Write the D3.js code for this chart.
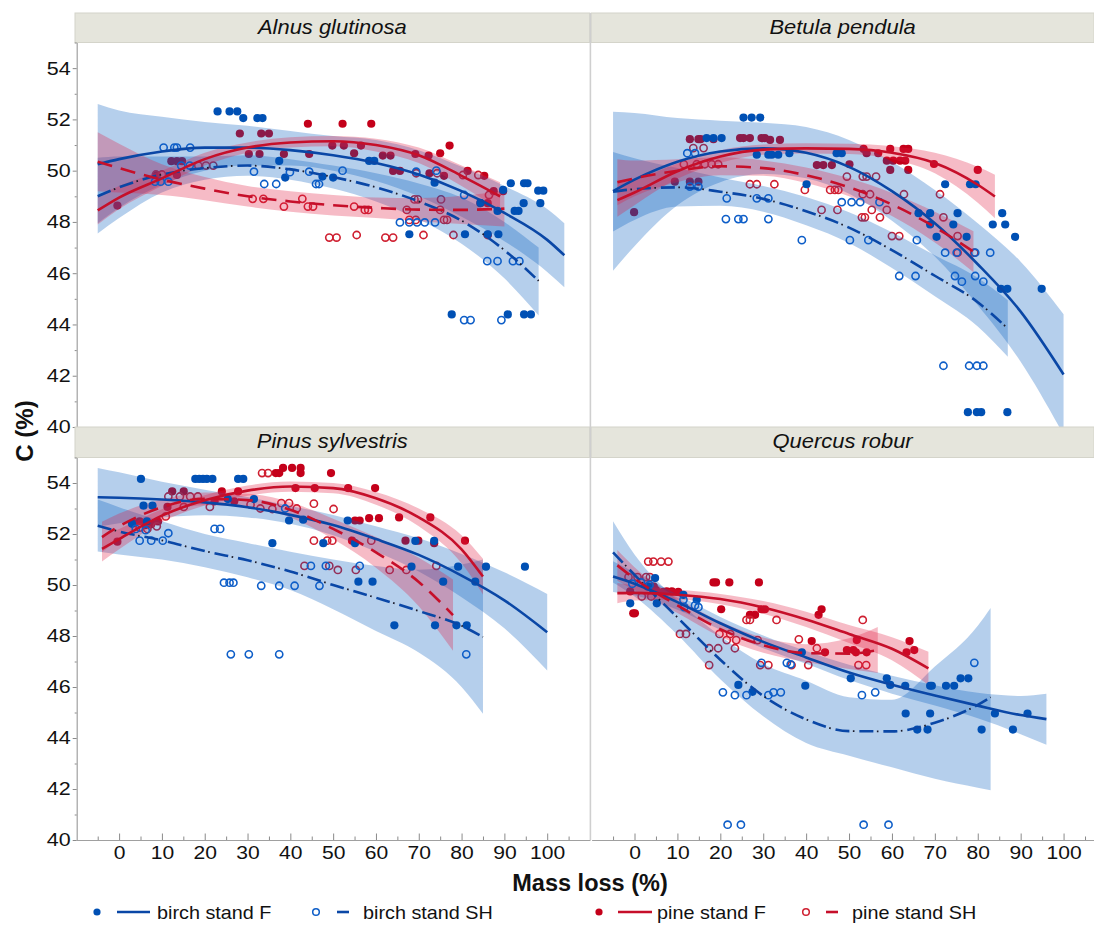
<!DOCTYPE html>
<html>
<head>
<meta charset="utf-8">
<script src="https://cdn.jsdelivr.net/npm/d3@7"></script>
<style>
body { margin: 0; background: #fff; }
svg { display: block; font-family: "Liberation Sans", Arial, sans-serif; }
</style>
</head>
<body>
<div id="chart"></div>
<script>
var panelTitles = ["Alnus glutinosa", "Betula pendula", "Pinus sylvestris", "Quercus robur"];
var seriesNames = ["birch stand F", "birch stand SH", "pine stand F", "pine stand SH"];
var xTicks = [0, 10, 20, 30, 40, 50, 60, 70, 80, 90, 100];
var yTicks = [40, 42, 44, 46, 48, 50, 52, 54];

// points: [mass loss %, C %]
var alnusBirchF = [[23.0,52.31],[25.8,52.31],[27.6,52.31],[29.0,52.05],[32.3,52.05],[33.5,52.05],[37.4,50.38],[38.8,49.73],[47.5,49.77],[50.0,49.73],[58.4,50.38],[59.6,50.38],[67.8,47.52],[73.7,49.53],[77.7,44.39],[80.8,47.52],[84.4,48.74],[86.1,47.52],[88.6,47.52],[88.4,48.43],[89.7,49.25],[90.8,44.39],[91.5,49.51],[92.4,48.43],[93.3,48.43],[94.5,48.73],[94.6,49.51],[95.4,49.51],[94.6,44.39],[96.2,44.39],[97.9,49.22],[98.4,48.73],[99.1,49.22]];
var alnusBirchSH = [[8.4,49.57],[9.7,49.57],[11.5,49.57],[10.4,50.9],[12.9,50.9],[13.5,50.9],[16.6,50.9],[14.5,50.2],[16.5,50.2],[31.5,49.96],[33.9,49.48],[36.7,49.48],[39.9,49.94],[44.4,49.96],[46.0,49.48],[46.7,49.48],[52.2,50.0],[65.6,47.98],[67.8,47.98],[69.6,47.98],[71.4,47.98],[73.8,47.98],[69.4,49.96],[74.1,50.0],[80.6,49.05],[86.0,46.47],[88.4,46.47],[92.0,46.47],[93.5,46.47],[80.6,44.17],[82.1,44.17],[89.3,44.17]];
var alnusPineF = [[-0.4,48.64],[8.8,49.83],[12.2,50.37],[13.5,50.37],[14.7,50.37],[13.5,49.83],[28.2,51.45],[30.3,50.65],[32.8,50.65],[33.2,51.45],[35.0,51.45],[38.5,50.65],[44.1,51.83],[44.4,50.65],[49.8,50.98],[52.2,51.83],[52.5,50.98],[54.9,50.68],[56.5,50.98],[58.9,51.83],[61.6,50.59],[63.4,50.59],[64.0,49.99],[65.6,49.99],[69.2,50.65],[72.3,50.59],[72.5,49.9],[75.0,50.68],[75.9,49.8],[77.2,50.98],[81.4,49.99],[85.3,49.8],[84.4,48.73],[86.1,48.73],[87.5,49.2],[89.7,49.2]];
var alnusPineSH = [[8.6,49.85],[10.0,49.85],[18.5,50.2],[20.3,50.2],[22.0,50.2],[31.2,48.9],[33.7,48.9],[38.5,48.6],[42.8,48.9],[44.1,48.6],[45.3,48.6],[49.1,47.39],[50.8,47.39],[54.9,48.6],[55.5,47.49],[57.4,48.47],[58.2,48.47],[62.2,47.39],[64.0,47.39],[67.2,48.47],[67.8,48.08],[69.3,48.08],[69.0,48.88],[69.8,48.88],[69.4,49.9],[71.1,47.49],[74.3,49.9],[75.0,48.47],[75.2,48.88],[75.9,48.08],[76.6,48.08],[78.1,47.49],[80.3,49.83],[83.9,49.83],[86.1,47.49],[86.4,49.05]];

var betulaBirchF = [[16.8,51.27],[18.4,51.27],[20.3,51.27],[25.4,52.07],[27.3,52.07],[29.3,52.07],[28.5,50.62],[31.2,50.62],[32.0,50.62],[33.5,50.62],[36.1,50.68],[40.1,49.47],[47.1,50.68],[48.3,50.68],[66.2,48.34],[68.9,48.34],[68.9,47.9],[70.4,47.42],[72.4,49.47],[74.3,47.9],[75.3,48.34],[77.4,47.42],[78.2,49.47],[79.5,49.47],[83.5,47.9],[85.4,45.39],[85.7,48.34],[86.4,47.9],[86.9,45.39],[88.7,47.42],[94.9,45.39],[77.7,40.58],[79.8,40.58],[80.8,40.58],[86.9,40.58]];
var betulaBirchSH = [[12.3,50.68],[14.1,50.68],[12.9,49.38],[14.9,49.38],[21.5,48.92],[28.5,48.92],[31.2,48.92],[21.3,48.11],[24.2,48.11],[25.4,48.11],[31.2,48.11],[39.0,47.29],[48.3,48.77],[50.6,48.77],[52.6,48.77],[50.2,47.29],[54.5,47.29],[57.1,48.77],[61.7,45.89],[65.5,45.89],[65.8,47.29],[72.4,46.8],[75.1,46.8],[74.7,45.89],[76.3,45.67],[79.4,46.8],[79.4,45.89],[81.3,45.67],[82.9,46.8],[72.0,42.39],[78.0,42.39],[79.8,42.39],[81.3,42.39]];
var betulaPineF = [[-0.1,48.38],[9.4,49.57],[12.9,51.23],[14.9,51.23],[15.4,51.23],[18.4,51.23],[12.9,49.57],[14.9,49.57],[24.6,51.27],[25.4,51.27],[26.9,51.27],[29.6,51.27],[30.4,51.27],[31.6,51.2],[33.9,51.2],[42.5,50.22],[44.0,50.22],[46.0,50.22],[50.1,50.25],[53.4,50.85],[54.1,50.68],[56.8,50.68],[58.8,50.39],[59.6,50.85],[59.6,50.03],[60.3,50.39],[61.9,50.39],[62.7,50.85],[63.1,50.39],[63.8,50.85],[63.8,50.03],[69.8,50.26],[80.0,50.03]];
var betulaPineSH = [[13.7,50.88],[16.1,50.88],[11.5,50.25],[14.5,50.25],[16.4,50.25],[18.0,50.25],[19.5,50.25],[26.9,49.47],[28.5,49.47],[32.6,49.47],[39.7,49.25],[43.6,48.47],[47.3,48.47],[45.6,49.25],[46.7,49.25],[47.5,49.25],[49.5,49.77],[53.2,49.77],[54.1,49.77],[56.3,49.77],[53.2,49.08],[54.9,49.08],[55.3,48.47],[53.0,48.18],[53.7,48.18],[57.2,48.18],[58.8,48.47],[62.8,49.08],[60.0,47.45],[61.7,47.45],[71.2,49.08],[72.0,48.18],[75.3,47.45],[75.3,46.8],[79.2,46.8]];

var pinusBirchF = [[3.0,52.4],[6.5,52.5],[5.1,54.16],[5.7,53.11],[7.8,53.11],[17.8,54.16],[18.7,54.16],[19.6,54.16],[20.5,54.16],[21.8,54.16],[27.8,54.16],[29.0,54.16],[25.4,53.37],[31.5,53.37],[35.8,51.64],[39.7,52.53],[43.0,52.56],[47.7,51.64],[53.4,52.53],[55.1,51.64],[55.9,50.13],[59.2,50.13],[64.3,48.42],[68.3,50.72],[69.2,51.73],[73.6,51.73],[73.8,48.42],[75.7,50.13],[78.8,48.42],[79.2,50.72],[81.2,48.42],[83.2,50.13],[85.7,50.72],[94.8,50.72]];
var pinusBirchSH = [[3.9,52.2],[6.2,52.15],[4.8,51.74],[7.5,51.74],[10.2,51.74],[11.5,52.03],[22.3,52.2],[23.6,52.2],[24.5,50.09],[25.8,50.09],[26.7,50.09],[26.1,47.28],[30.3,47.28],[37.4,47.28],[33.2,49.97],[37.4,49.97],[41.0,49.97],[46.8,49.97],[44.8,50.75],[48.3,50.75],[56.2,50.75],[38.8,53.0],[81.1,47.28]];
var pinusPineF = [[-0.4,51.7],[3.5,52.43],[4.8,52.5],[6.2,52.35],[7.5,52.38],[9.1,52.49],[12.4,53.67],[15.1,53.67],[11.3,53.06],[22.3,53.28],[24.0,53.67],[26.9,53.28],[27.8,53.67],[36.6,54.39],[37.4,54.39],[38.3,54.59],[40.4,54.59],[42.4,54.59],[42.4,54.39],[41.2,53.8],[45.7,53.8],[49.5,54.39],[53.5,53.8],[59.8,53.8],[55.1,52.53],[56.2,52.53],[58.4,52.62],[60.7,52.62],[54.4,51.74],[65.4,52.65],[66.9,51.74],[69.9,51.74],[72.7,52.65],[73.6,51.64],[80.8,51.74]];
var pinusPineSH = [[4.8,52.25],[6.6,52.2],[8.8,52.3],[10.9,52.69],[11.5,53.47],[14.2,53.47],[16.6,53.47],[18.4,53.47],[15.1,53.06],[21.2,53.06],[30.7,53.15],[33.0,53.0],[33.4,54.39],[34.8,54.39],[35.8,52.98],[37.9,53.21],[39.7,53.21],[41.5,53.0],[45.5,53.19],[50.1,52.98],[45.5,51.74],[48.6,51.74],[49.8,51.74],[43.3,50.75],[49.1,50.75],[51.1,50.59],[55.3,50.59],[58.9,51.74],[63.2,50.59],[67.1,50.59],[74.1,50.75]];

var quercusBirchF = [[-1.0,49.28],[4.8,50.27],[3.2,49.94],[5.2,49.28],[11.4,49.61],[14.5,49.42],[24.2,46.08],[27.5,45.81],[39.0,47.36],[39.8,46.05],[50.4,46.34],[58.8,46.34],[59.6,46.08],[63.1,46.05],[63.2,44.96],[65.9,44.33],[68.3,44.33],[68.9,46.05],[69.3,46.05],[68.9,44.96],[72.6,46.05],[74.5,46.05],[76.0,46.34],[77.8,46.34],[80.9,44.33],[84.0,44.96],[88.2,44.33],[91.6,44.96]];
var quercusBirchSH = [[-0.5,50.05],[1.5,50.1],[3.5,50.0],[11.4,49.42],[11.6,49.13],[14.1,49.2],[14.9,49.13],[20.6,45.79],[23.4,45.68],[26.1,45.68],[31.2,45.68],[32.4,45.79],[34.1,45.79],[29.6,46.95],[35.5,46.95],[36.4,46.89],[53.0,45.68],[56.1,45.79],[79.2,46.95],[21.7,40.6],[24.8,40.6],[53.4,40.6],[59.2,40.6]];
var quercusPineF = [[-0.3,48.89],[0.1,48.89],[-1.0,49.75],[3.0,49.94],[4.5,49.94],[5.0,49.8],[6.7,49.73],[7.5,49.75],[8.7,49.75],[10.2,49.73],[18.4,50.1],[19.0,50.1],[22.1,50.1],[29.0,50.1],[20.2,49.05],[26.9,48.83],[28.1,48.83],[29.6,49.05],[30.4,49.05],[41.3,47.8],[42.9,48.83],[43.6,49.05],[44.4,47.36],[49.5,47.45],[51.0,47.45],[51.6,47.36],[51.8,47.84],[54.1,47.36],[63.4,47.36],[64.1,47.8],[65.2,47.45]];
var quercusPineSH = [[-1.4,50.31],[0.7,50.31],[2.7,50.31],[3.6,50.31],[3.2,50.92],[4.4,50.92],[6.2,50.92],[7.9,50.92],[1.7,49.55],[3.9,49.55],[10.6,48.08],[12.0,48.08],[17.4,47.52],[19.5,47.52],[17.4,46.86],[19.8,48.08],[21.5,47.84],[22.3,48.08],[23.7,47.84],[23.4,47.52],[26.1,48.63],[26.9,48.63],[33.1,48.63],[28.7,47.84],[29.3,46.86],[31.2,46.86],[38.3,47.87],[36.6,46.86],[40.5,46.86],[42.5,47.52],[53.2,48.63],[52.2,46.86],[54.0,46.86]];

// fitted curves: [mass loss, fit, lower, upper]
var alnusFitBirchF = [[-5,50.25,47.95,52.6],[0,50.45,48.55,52.35],[10,50.75,49.45,52.1],[20,50.9,50.0,51.9],[30,50.9,50.2,51.75],[40,50.8,50.2,51.55],[50,50.6,50.0,51.35],[60,50.3,49.6,51.2],[70,49.85,49.0,50.8],[80,49.2,48.2,50.15],[90,48.35,47.25,49.4],[100,47.3,46.05,48.5],[104,46.7,45.45,47.95]];
var alnusFitBirchSH = [[-5,49.0,47.55,50.5],[0,49.35,48.15,50.55],[10,49.85,49.15,50.55],[20,50.1,49.65,50.55],[30,50.2,49.8,50.6],[40,50.05,49.65,50.45],[50,49.75,49.3,50.2],[60,49.35,48.8,49.9],[70,48.8,48.1,49.5],[80,48.05,47.15,48.95],[90,46.9,45.8,48.0],[98,45.7,44.35,47.0]];
var alnusFitPineF = [[-5,48.45,47.9,49.0],[0,48.95,48.5,49.4],[10,49.7,49.4,50.0],[20,50.45,50.2,50.7],[30,50.9,50.7,51.1],[40,51.1,50.9,51.3],[50,51.15,50.95,51.35],[60,51.0,50.75,51.25],[70,50.6,50.3,50.9],[80,49.8,49.4,50.2],[89,49.0,48.45,49.55]];
var alnusFitPineSH = [[-5,50.35,49.2,51.5],[0,50.1,49.15,51.05],[10,49.65,49.05,50.25],[20,49.3,48.85,49.75],[30,49.0,48.6,49.4],[40,48.8,48.4,49.2],[50,48.65,48.25,49.05],[60,48.55,48.15,48.95],[70,48.48,48.03,48.93],[80,48.47,47.92,49.02],[90,48.52,47.82,49.22]];

var betulaFitBirchF = [[-5,49.2,46.1,52.3],[0,49.65,47.05,52.25],[10,50.35,48.65,52.05],[20,50.75,49.55,51.95],[30,50.87,49.87,51.87],[40,50.7,49.7,51.7],[50,50.15,49.1,51.2],[60,49.2,48.05,50.35],[70,47.95,46.65,49.25],[80,46.35,44.75,47.95],[90,44.5,42.55,46.45],[100,42.05,39.7,44.4]];
var betulaFitBirchSH = [[-5,49.18,47.63,50.73],[0,49.28,48.08,50.48],[10,49.35,48.6,50.1],[20,49.18,48.63,49.73],[30,48.9,48.4,49.4],[40,48.42,47.87,48.97],[50,47.78,47.18,48.38],[60,46.9,46.2,47.6],[70,45.9,45.1,46.7],[80,44.87,43.92,45.82],[87,43.84,42.74,44.94]];
var betulaFitPineF = [[-4,48.85,48.2,49.5],[0,49.15,48.65,49.65],[10,49.98,49.68,50.28],[20,50.55,50.3,50.8],[30,50.82,50.62,51.02],[40,50.87,50.67,51.07],[50,50.85,50.65,51.05],[60,50.7,50.45,50.95],[70,50.3,49.9,50.7],[80,49.45,48.75,50.15],[84,48.99,48.14,49.84]];
var betulaFitPineSH = [[-4,49.55,48.65,50.45],[0,49.7,49.0,50.4],[10,50.0,49.55,50.45],[20,50.17,49.82,50.52],[30,50.1,49.8,50.4],[40,49.82,49.52,50.12],[50,49.35,49.0,49.7],[60,48.68,48.23,49.13],[70,47.8,47.2,48.4],[79,46.84,46.04,47.64]];

var pinusFitBirchF = [[-5,53.44,52.29,54.59],[0,53.42,52.42,54.42],[10,53.35,52.65,54.05],[20,53.24,52.74,53.74],[30,53.05,52.65,53.45],[40,52.75,52.4,53.1],[50,52.35,51.95,52.75],[60,51.8,51.3,52.3],[70,51.18,50.53,51.83],[80,50.37,49.52,51.22],[90,49.4,48.3,50.5],[100,48.15,46.65,49.65]];
var pinusFitBirchSH = [[-5,52.32,51.31,53.35],[0,52.1,51.2,53.05],[10,51.75,51.0,52.5],[20,51.33,50.7,52.0],[30,50.97,50.3,51.65],[40,50.53,49.8,51.3],[50,50.0,49.05,51.0],[60,49.5,48.2,50.75],[70,48.98,47.35,50.6],[80,48.4,46.0,50.8],[85,47.96,44.95,51.0]];
var pinusFitPineF = [[-4,51.42,50.92,51.92],[0,51.8,51.4,52.2],[10,52.72,52.47,52.97],[20,53.32,53.12,53.52],[30,53.7,53.5,53.9],[40,53.86,53.66,54.06],[50,53.8,53.6,54.0],[60,53.4,53.15,53.65],[70,52.65,52.3,53.0],[80,51.4,50.85,51.95],[85,50.33,49.63,51.03]];
var pinusFitPineSH = [[-4,51.88,51.28,52.48],[0,52.3,51.8,52.8],[10,53.05,52.75,53.35],[20,53.38,53.13,53.63],[30,53.33,53.08,53.58],[40,52.95,52.65,53.25],[50,52.2,51.8,52.6],[60,51.28,50.68,51.88],[70,50.12,49.17,51.07],[78,48.82,47.42,50.22]];

var quercusFitBirchF = [[-5,50.33,49.73,50.93],[0,50.05,49.6,50.5],[10,49.33,49.03,49.63],[20,48.5,48.25,48.75],[30,47.77,47.52,48.02],[40,47.16,46.91,47.41],[50,46.57,46.27,46.87],[60,46.09,45.74,46.44],[70,45.67,45.27,46.07],[80,45.27,44.77,45.77],[90,44.9,44.15,45.65],[96,44.74,43.74,45.74]];
var quercusFitBirchSH = [[-5,51.28,50.1,52.5],[0,50.4,49.55,51.2],[10,48.73,48.05,49.4],[20,47.07,46.3,48.0],[30,45.65,44.85,46.9],[40,44.73,43.8,46.25],[50,44.27,43.3,45.6],[60,44.26,42.85,45.5],[70,44.6,42.4,46.8],[80,45.3,42.05,48.4],[83,45.6,41.95,49.1]];
var quercusFitPineF = [[-4,49.68,49.28,50.08],[0,49.69,49.39,49.99],[10,49.62,49.42,49.82],[20,49.45,49.25,49.65],[30,49.12,48.87,49.37],[40,48.65,48.35,48.95],[50,48.08,47.73,48.43],[60,47.5,47.05,47.95],[68.5,46.73,46.08,47.38]];
var quercusFitPineSH = [[-4,50.77,50.17,51.37],[0,50.25,49.8,50.7],[10,49.2,48.9,49.5],[20,48.27,47.97,48.57],[30,47.64,47.34,47.94],[40,47.33,46.98,47.68],[50,47.31,46.71,47.91],[56.7,47.45,46.55,48.35]];

var panels = [
    { title: panelTitles[0], pts: [alnusBirchF, alnusBirchSH, alnusPineF, alnusPineSH], fits: [alnusFitBirchF, alnusFitBirchSH, alnusFitPineF, alnusFitPineSH] },
    { title: panelTitles[1], pts: [betulaBirchF, betulaBirchSH, betulaPineF, betulaPineSH], fits: [betulaFitBirchF, betulaFitBirchSH, betulaFitPineF, betulaFitPineSH] },
    { title: panelTitles[2], pts: [pinusBirchF, pinusBirchSH, pinusPineF, pinusPineSH], fits: [pinusFitBirchF, pinusFitBirchSH, pinusFitPineF, pinusFitPineSH] },
    { title: panelTitles[3], pts: [quercusBirchF, quercusBirchSH, quercusPineF, quercusPineSH], fits: [quercusFitBirchF, quercusFitBirchSH, quercusFitPineF, quercusFitPineSH] }
];

var blueDot = "#0050b4", blueOpen = "#0e5ec8", blueLine = "#0a47a6";
var redDot = "#c4001a", redOpen = "#cf1f30", redLine = "#c60f2a";
var series = [
    { dot: blueDot, open: false, line: blueLine, band: "rgb(0,90,190)", bandOp: 0.29, dash: null },
    { dot: blueOpen, open: true, line: blueLine, band: "rgb(0,90,190)", bandOp: 0.29, dash: "14,10" },
    { dot: redDot, open: false, line: redLine, band: "rgb(225,30,65)", bandOp: 0.3, dash: null },
    { dot: redOpen, open: true, line: redLine, band: "rgb(225,30,65)", bandOp: 0.3, dash: "15,9" }
];

var W = 1094, H = 929;
var cols = [{ x0: 76.3, x1: 590, hx0: 75, hx1: 589.6, domain: [-10, 110] },
            { x0: 591.6, x1: 1093.6, hx0: 591.2, hx1: 1094, domain: [-10, 107] }];
var rows = [{ hy: 13, top: 42.5, bottom: 427 }, { hy: 427, top: 457.5, bottom: 840 }];

var svg = d3.select("#chart").append("svg").attr("width", W).attr("height", H);

function label(parent, x, y, str, size, sx, anchor, weight, italic) {
    return parent.append("text")
        .attr("transform", "translate(" + x + "," + y + ") scale(" + sx + ",1)")
        .attr("text-anchor", anchor)
        .style("font-size", size + "px")
        .style("font-weight", weight || "normal")
        .style("font-style", italic ? "italic" : "normal")
        .style("fill", "#111")
        .text(str);
}

function drawPoints(g, data, s, x, y) {
    g.selectAll(null).data(data).enter().append("circle")
        .attr("cx", function (d) { return x(d[0]); })
        .attr("cy", function (d) { return y(d[1]); })
        .attr("r", s.open ? 3.6 : 4.1)
        .attr("fill", s.open ? "none" : s.dot)
        .attr("stroke", s.open ? s.dot : "none")
        .attr("stroke-width", 1.6);
}

panels.forEach(function (p, i) {
    var c = cols[i % 2], r = rows[Math.floor(i / 2)];
    var x = d3.scaleLinear().domain(c.domain).range([c.x0, c.x1]);
    var y = d3.scaleLinear().domain([40, 55]).range([r.bottom, r.top]);

    // strip header
    svg.append("rect")
        .attr("x", c.hx0).attr("y", r.hy)
        .attr("width", c.hx1 - c.hx0).attr("height", r.top - r.hy)
        .attr("fill", "#e5e5dc").attr("stroke", "#d4d4ca").attr("stroke-width", 1);
    label(svg, (c.hx0 + c.hx1) / 2, r.hy + 21, p.title, 20.5, 1.07, "middle", "normal", true);

    svg.append("clipPath").attr("id", "clip" + i).append("rect")
        .attr("x", c.x0).attr("y", r.top)
        .attr("width", c.hx1 - c.x0).attr("height", r.bottom - r.top);
    var g = svg.append("g").attr("clip-path", "url(#clip" + i + ")");

    var area = d3.area()
        .x(function (d) { return x(d[0]); })
        .y0(function (d) { return y(d[2]); })
        .y1(function (d) { return y(d[3]); })
        .curve(d3.curveMonotoneX);
    var line = d3.line()
        .x(function (d) { return x(d[0]); })
        .y(function (d) { return y(d[1]); })
        .curve(d3.curveMonotoneX);

    // red points sit below the bands, blue ones above
    drawPoints(g, p.pts[2], series[2], x, y);
    drawPoints(g, p.pts[3], series[3], x, y);
    [0, 1, 2, 3].forEach(function (k) {
        g.append("path").datum(p.fits[k])
            .attr("d", area)
            .attr("fill", series[k].band)
            .attr("fill-opacity", series[k].bandOp);
    });
    drawPoints(g, p.pts[0], series[0], x, y);
    drawPoints(g, p.pts[1], series[1], x, y);

    [0, 1, 2, 3].forEach(function (k) {
        g.append("path").datum(p.fits[k])
            .attr("d", line)
            .attr("fill", "none")
            .attr("stroke", series[k].line)
            .attr("stroke-width", 2.6)
            .attr("stroke-dasharray", series[k].dash);
        if (k === 1) {
            // little dark dots of the dash-dot pattern
            g.append("path").datum(p.fits[k])
                .attr("d", line)
                .attr("fill", "none")
                .attr("stroke", "#1a1a2a")
                .attr("stroke-width", 1.8)
                .attr("stroke-dasharray", "0,17.5,1.6,4.9");
        }
    });

    // y axis on the left column
    if (i % 2 === 0) {
        var ax = svg.append("g")
            .attr("class", "y axis")
            .attr("transform", "translate(" + (c.x0 + 0.4) + ",0)")
            .call(d3.axisLeft(y).tickValues(yTicks).tickSize(4).tickSizeOuter(0));
        ax.selectAll("text")
            .attr("x", 0)
            .attr("transform", "translate(-6,0) scale(1.16,1)")
            .style("font-size", "18.5px").style("fill", "#111")
            .style("font-family", "'Liberation Sans', Arial, sans-serif");
        svg.append("g")
            .attr("transform", "translate(" + (c.x0 + 0.4) + ",0)")
            .call(d3.axisLeft(y).tickValues([41, 43, 45, 47, 49, 51, 53, 55]).tickSize(2).tickFormat(""))
            .select(".domain").remove();
        svg.selectAll(".tick line").style("stroke", "#8a8a8a");
        ax.select(".domain").style("stroke", "#a0a0a0").style("stroke-width", 1.2);
    }

    // x axis on the bottom row
    if (r === rows[1]) {
        var bx = svg.append("g")
            .attr("transform", "translate(0," + r.bottom + ")")
            .call(d3.axisBottom(x).tickValues(xTicks).tickSize(-6.5).tickSizeOuter(0).tickPadding(6));
        bx.selectAll("text")
            .attr("y", 0)
            .attr("transform", "translate(0,6) scale(1.14,1)")
            .style("font-size", "18.5px").style("fill", "#111")
            .style("font-family", "'Liberation Sans', Arial, sans-serif");
        bx.select(".domain").style("stroke", "#a0a0a0").style("stroke-width", 1.2);
        var minor = d3.range(c.domain[0] + 5, c.domain[1], 10);
        svg.append("g")
            .attr("transform", "translate(0," + r.bottom + ")")
            .call(d3.axisBottom(x).tickValues(minor).tickSize(-3.5).tickFormat(""))
            .select(".domain").remove();
        svg.selectAll(".tick line").style("stroke", "#8a8a8a");
    }
});

// divider between the two columns
svg.append("line")
    .attr("x1", 590.4).attr("x2", 590.4).attr("y1", 13).attr("y2", 840)
    .attr("stroke", "#cfcfcf").attr("stroke-width", 1.6);

// axis titles
label(svg, 590, 891, "Mass loss (%)", 23.5, 1, "middle", "bold");
svg.append("text")
    .attr("transform", "translate(33,431) rotate(-90)")
    .attr("text-anchor", "middle")
    .style("font-size", "24px").style("font-weight", "bold").style("fill", "#111")
    .text("C (%)");

// legend
var legY = 912;
var legPos = [{ m: 97, l0: 117, l1: 150, t: 157 }, { m: 316, l0: 337, l1: 349, t: 363 },
              { m: 599, l0: 618, l1: 652, t: 657 }, { m: 806, l0: 826, l1: 838, t: 852 }];
legPos.forEach(function (lp, k) {
    var s = series[k];
    svg.append("circle").attr("cx", lp.m).attr("cy", legY)
        .attr("r", s.open ? 3.3 : 3.6)
        .attr("fill", s.open ? "none" : s.dot)
        .attr("stroke", s.open ? s.dot : "none").attr("stroke-width", 1.5);
    svg.append("line").attr("x1", lp.l0).attr("x2", lp.l1).attr("y1", legY).attr("y2", legY)
        .attr("stroke", s.line).attr("stroke-width", 2.6);
    label(svg, lp.t, legY + 7, seriesNames[k], 18, 1.1, "start");
});
</script>
</body>
</html>
